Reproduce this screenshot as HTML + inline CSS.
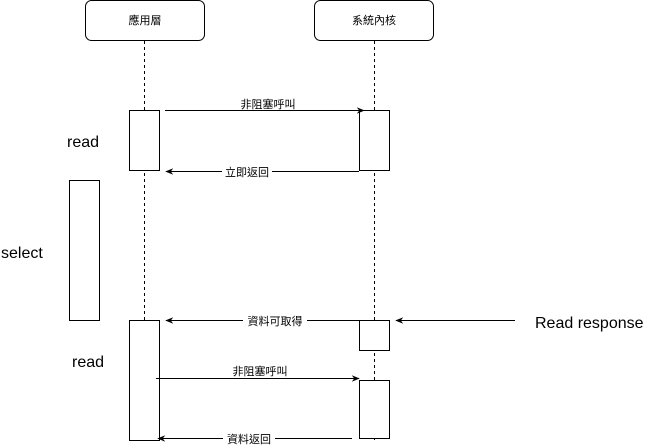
<!DOCTYPE html>
<html><head><meta charset="utf-8"><style>
html,body{margin:0;padding:0;background:#fff;}
svg{display:block;}
text{font-family:"Liberation Sans","Noto Sans CJK TC",sans-serif;fill:#000;}
.s{font-size:11px;}
.b{font-size:16px;}
</style></head><body>
<svg width="665" height="448" viewBox="0 0 665 448" xmlns="http://www.w3.org/2000/svg">
<defs><marker id="a" viewBox="0 0 10 10" refX="9" refY="5" markerWidth="8" markerHeight="8" orient="auto"><path d="M0,1 L10,5 L0,9 L3,5 Z" fill="#000"/></marker></defs>
<g fill="#fff" stroke="#000" stroke-width="1">
<rect x="85.5" y="0.5" width="119" height="40" rx="6"/>
<rect x="314.5" y="0.5" width="119" height="40" rx="6"/>
</g>
<text class="s" x="145" y="24" text-anchor="middle">應用層</text>
<text class="s" x="374" y="24" text-anchor="middle">系統內核</text>
<g stroke="#000" stroke-dasharray="3,3">
<line x1="144.5" y1="41" x2="144.5" y2="440"/>
<line x1="374.5" y1="41" x2="374.5" y2="440"/>
</g>
<g fill="#fff" stroke="#000">
<rect x="129.5" y="110.5" width="30" height="60"/>
<rect x="359.5" y="110.5" width="30" height="60"/>
<rect x="69.5" y="180.5" width="30" height="140"/>
<rect x="129.5" y="320.5" width="30" height="120"/>
<rect x="359.5" y="320.5" width="30" height="30"/>
<rect x="359.5" y="380.5" width="30" height="58"/>
</g>
<g stroke="#000" marker-end="url(#a)">
<line x1="165" y1="110.5" x2="364" y2="110.5"/>
<line x1="359" y1="171.5" x2="166" y2="171.5"/>
<line x1="359" y1="320.5" x2="166" y2="320.5"/>
<line x1="515" y1="320.5" x2="396" y2="320.5"/>
<line x1="156" y1="378.5" x2="359" y2="378.5"/>
<line x1="352" y1="438.5" x2="158" y2="438.5"/>
</g>
<g fill="#fff">
<rect x="238" y="97" width="60" height="13"/>
<rect x="222" y="165" width="50" height="13"/>
<rect x="243" y="314" width="64" height="13"/>
<rect x="228" y="364" width="64" height="13"/>
<rect x="223" y="432" width="52" height="13"/>
</g>
<text class="s" x="268" y="108" text-anchor="middle">非阻塞呼叫</text>
<text class="s" x="247" y="176" text-anchor="middle">立即返回</text>
<text class="s" x="275" y="325" text-anchor="middle">資料可取得</text>
<text class="s" x="260" y="375" text-anchor="middle">非阻塞呼叫</text>
<text class="s" x="249" y="443" text-anchor="middle">資料返回</text>
<text class="b" x="67" y="147">read</text>
<text class="b" x="1" y="258">select</text>
<text class="b" x="72" y="367">read</text>
<text class="b" x="535" y="328">Read response</text>
</svg>
</body></html>
